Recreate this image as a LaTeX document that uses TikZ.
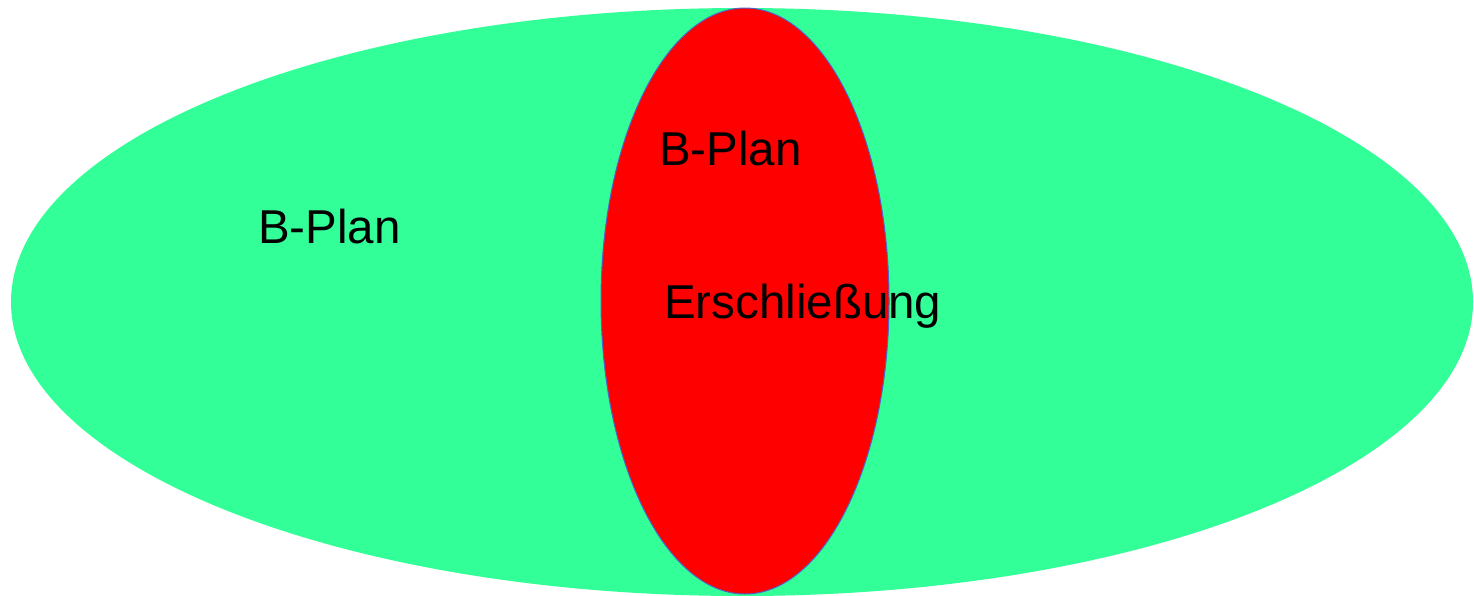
\documentclass[tikz,border=0pt]{standalone}
\usepackage{fontspec}
\setmainfont{Liberation Sans}
\definecolor{bgreen}{RGB}{51,255,153}
\definecolor{rborder}{RGB}{80,100,200}
\begin{document}
\begin{tikzpicture}[x=1pt,y=-1pt,
  lbl/.style={anchor=base west,inner sep=0pt,font=\fontsize{47.5}{57}\selectfont}]
\useasboundingbox (0,0) rectangle (1474,595);
\fill[bgreen] (742,302) ellipse [x radius=731,y radius=294];
\draw[fill=red,draw=rborder,line width=1pt] (745,301) ellipse [x radius=144,y radius=293];
\node[lbl] (bplanout) at (258,243) {B-Plan};
\node[lbl] (bplanin) at (659,165) {B-Plan};
\node[lbl] (erschl) at (664,318) {Erschließung};
\end{tikzpicture}
\end{document}
